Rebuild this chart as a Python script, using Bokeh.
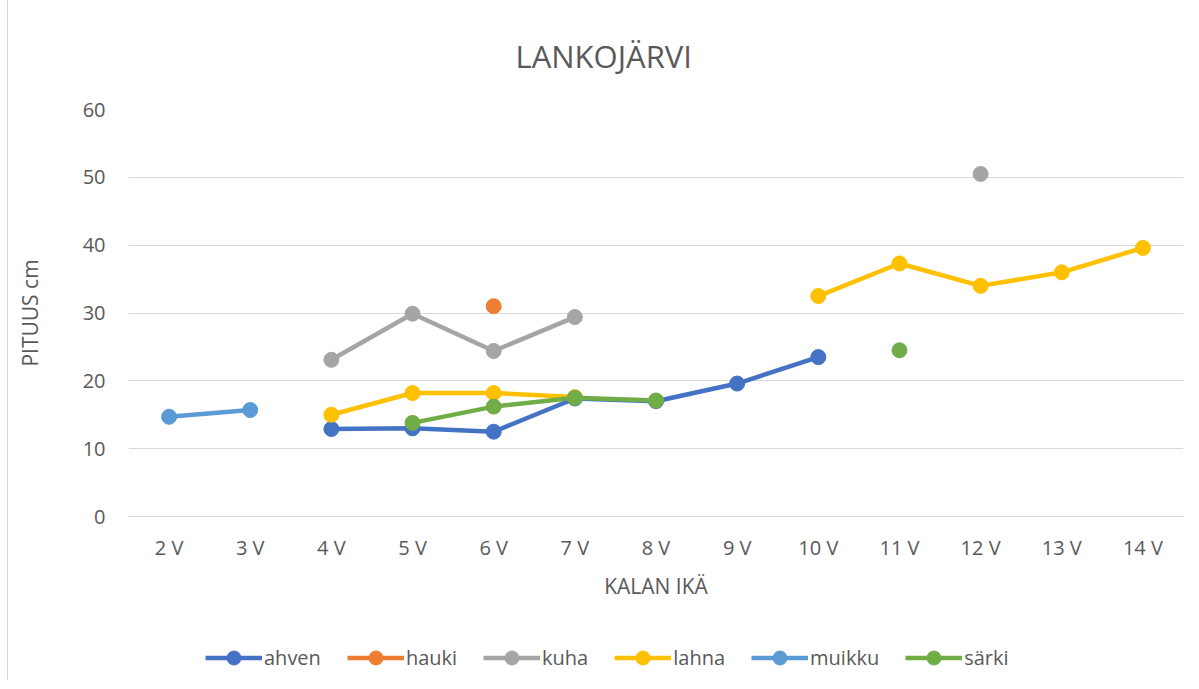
import numpy as np
from bokeh.plotting import figure
from bokeh.layouts import column
from bokeh.models import FactorRange, Range1d, Legend, LegendItem, ColumnDataSource
from bokeh.embed import file_html
from bokeh.resources import INLINE

nan = float("nan")
ages = ["2 V", "3 V", "4 V", "5 V", "6 V", "7 V", "8 V", "9 V", "10 V", "11 V", "12 V", "13 V", "14 V"]
ahven = [nan, nan, 12.9, 13.0, 12.5, 17.4, 17.0, 19.6, 23.5, nan, nan, nan, nan]
hauki = [nan, nan, nan, nan, 31.0, nan, nan, nan, nan, nan, nan, nan, nan]
kuha = [nan, nan, 23.1, 29.9, 24.4, 29.4, nan, nan, nan, nan, 50.5, nan, nan]
lahna = [nan, nan, 15.0, 18.2, 18.2, 17.6, nan, nan, 32.5, 37.3, 34.0, 36.0, 39.6]
muikku = [14.7, 15.7, nan, nan, nan, nan, nan, nan, nan, nan, nan, nan, nan]
sarki = [nan, nan, nan, 13.8, 16.2, 17.5, 17.1, nan, nan, 24.5, nan, nan, nan]

series = [
    ("ahven", ahven, "#4472C4"),
    ("hauki", hauki, "#ED7D31"),
    ("kuha", kuha, "#A5A5A5"),
    ("lahna", lahna, "#FFC000"),
    ("muikku", muikku, "#5B9BD5"),
    ("särki", sarki, "#70AD47"),
]

FONT = "Open Sans"
TXT = "#595959"
BORDER = {"margin-left": "7px", "border-left": "1px solid #d9d9d9"}

p = figure(frame_width=1054, frame_height=407, output_backend="svg", toolbar_location=None,
           x_range=FactorRange(*ages, range_padding=0), y_range=Range1d(0, 60),
           min_border_left=120, min_border_right=9, min_border_top=109, min_border_bottom=92)

p.styles = dict(BORDER)
p.outline_line_color = None
p.background_fill_color = "white"
p.border_fill_color = "white"

p.title.text = "LANKOJÄRVI"
p.title.align = "left"
p.title.offset = 387
p.title.text_font = FONT
p.title.text_font_size = "31px"
p.title.text_font_style = "normal"
p.title.text_color = TXT
p.title.standoff = 65

p.xgrid.grid_line_color = None
p.ygrid.grid_line_color = "#d9d9d9"
p.ygrid.grid_line_width = 1
p.yaxis.ticker = [0, 10, 20, 30, 40, 50, 60]

for ax in (p.xaxis[0], p.yaxis[0]):
    ax.major_tick_line_color = None
    ax.minor_tick_line_color = None
    ax.major_label_text_font = FONT
    ax.major_label_text_font_size = "20px"
    ax.major_label_text_color = TXT
    ax.axis_label_text_font = FONT
    ax.axis_label_text_font_size = "21px"
    ax.axis_label_text_font_style = "normal"
    ax.axis_label_text_color = TXT

p.yaxis.axis_line_color = None
p.yaxis.axis_label = "PITUUS cm"
p.yaxis.major_label_standoff = 17
p.yaxis.axis_label_standoff = 36
p.xaxis.axis_line_color = "#d9d9d9"
p.xaxis.axis_label = "KALAN IKÄ"
p.xaxis.major_label_standoff = 11
p.xaxis.axis_label_standoff = 8

# legend strip: a second figure holding only the legend
p2 = figure(frame_width=1183, frame_height=72, output_backend="svg", toolbar_location=None,
            x_range=Range1d(0, 1), y_range=Range1d(0, 1), x_axis_type=None, y_axis_type=None,
            min_border_left=0, min_border_right=0, min_border_top=0, min_border_bottom=0)
p2.styles = dict(BORDER)
p2.outline_line_color = None
p2.grid.visible = False
p2.background_fill_color = "white"
p2.border_fill_color = "white"

items = []
for name, vals, col in series:
    src = ColumnDataSource(dict(x=ages, y=vals))
    p.line("x", "y", source=src, line_color=col, line_width=4.5)
    p.scatter("x", "y", source=src, size=15, fill_color=col, line_color=col)
    key_src = ColumnDataSource(dict(x=[nan], y=[nan]))
    l2 = p2.line("x", "y", source=key_src, line_color=col, line_width=4.5)
    s2 = p2.scatter("x", "y", source=key_src, size=15, fill_color=col, line_color=col)
    items.append(LegendItem(label=name, renderers=[l2, s2]))

legend = Legend(items=items, orientation="horizontal", location=(197, 5),
                label_text_font=FONT, label_text_font_size="20px", label_text_color=TXT,
                glyph_width=57, glyph_height=35, label_standoff=2, spacing=26,
                border_line_color=None, background_fill_alpha=0, margin=0, padding=0)
p2.add_layout(legend, "center")

open("out.html", "w").write(file_html(column(p, p2, spacing=0), INLINE))
